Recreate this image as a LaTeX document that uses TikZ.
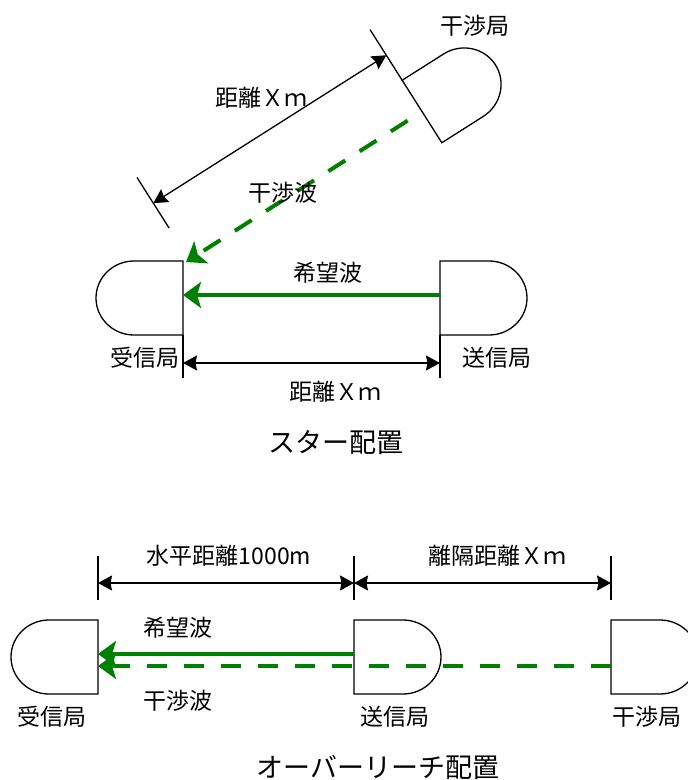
\documentclass[tikz,border=0pt]{standalone}
\usepackage{fontspec}
\newfontfamily\jpfont{Noto Sans CJK JP}
\usetikzlibrary{arrows.meta}
\definecolor{wavegreen}{RGB}{0,128,0}
\begin{document}
\begin{tikzpicture}[x=1pt,y=1pt,
  box/.style={minimum width=87pt,minimum height=74pt,inner sep=0pt,outer sep=0pt},
  outline/.style={draw=black,line width=1.3pt,fill=white},
  extline/.style={draw=black,line width=1.3pt},
  dimarrows/.style={draw=black,line width=1.3pt,{Stealth[length=14pt,width=15pt,inset=1.5pt]}-{Stealth[length=14pt,width=15pt,inset=1.5pt]}},
  wave/.style={draw=wavegreen,line width=4pt,-{Stealth[length=18pt,width=26pt,inset=4pt]}},
  iwave/.style={wave,dash pattern=on 20pt off 17pt},
  lbl/.style={font=\jpfont\fontsize{23}{25}\selectfont,inner sep=0pt},
  ttl/.style={font=\jpfont\fontsize{27}{29}\selectfont,inner sep=0pt},
  bulbright/.pic={\path[outline] (-43.5,37) -- (5.5,37) arc[start angle=90,end angle=-90,x radius=38,y radius=37] -- (-43.5,-37) -- cycle;},
  bulbleft/.pic={\path[outline] (43.5,37) -- (-5.5,37) arc[start angle=90,end angle=270,x radius=38,y radius=37] -- (43.5,-37) -- cycle;}]
\useasboundingbox (0,0) rectangle (688,-780);

% ---------- star layout ----------
\node[box] (rx) at (139.5,-298) {};
\pic at (rx.center) {bulbleft};
\node[box] (tx) at (483.5,-298) {};
\pic at (tx.center) {bulbright};
\node[box,rotate=32.4] (ix) at (458.73,-88.19) {};
\pic[rotate=32.4] at (ix.center) {bulbright};

% extension lines and dimension (bottom)
\coordinate (rxe) at ([yshift=-43pt]rx.south east);
\coordinate (txe) at ([yshift=-43pt]tx.south west);
\draw[extline] (rx.south east) -- (rxe);
\draw[extline] (tx.south west) -- (txe);
\coordinate (d1) at (183,-363);
\coordinate (d2) at (440,-363);
\draw[dimarrows] (d1) -- (d2);

% rotated dimension
\begin{scope}[shift={(ix.west)},rotate=32.4]
  \coordinate (ea1) at (0,37);
  \coordinate (ea2) at (0,97);
  \coordinate (eb1) at (-276,37);
  \coordinate (eb2) at (-276,97);
  \coordinate (da) at (0,66.6);
  \coordinate (db) at (-276,66.6);
\end{scope}
\draw[extline] (ea1) -- (ea2);
\draw[extline] (eb1) -- (eb2);
\draw[dimarrows] (da) -- (db);

% waves
\coordinate (itip) at (186,-262);
\draw[wave] ([yshift=3pt]tx.west) -- ([yshift=3pt]rx.east);
\draw[iwave,dash phase=20pt] (ix.west) -- (itip);

% labels
\node[lbl] (l1) at (475,-26) {干渉局};
\node[lbl] (l2) at (261,-98) {距離Ｘｍ};
\node[lbl] (l3) at (283,-193) {干渉波};
\node[lbl] (l4) at (328,-273) {希望波};
\node[lbl] (l5) at (145,-358) {受信局};
\node[lbl] (l6) at (497,-358) {送信局};
\node[lbl] (l7) at (335,-392) {距離Ｘｍ};
\node[ttl] (t1) at (336,-443) {スター配置};

% ---------- over-reach layout ----------
\node[box] (rb) at (54.5,-657) {};
\pic at (rb.center) {bulbleft};
\node[box] (tb) at (397.5,-657) {};
\pic at (tb.center) {bulbright};
\node[box] (ib) at (654.5,-657) {};
\pic at (ib.center) {bulbright};

\coordinate (x1a) at (98,-556);  \coordinate (x1b) at (98,-600);
\coordinate (x2a) at (354,-556); \coordinate (x2b) at (354,-600);
\coordinate (x3a) at (611,-556); \coordinate (x3b) at (611,-600);
\draw[extline] (x1a) -- (x1b);
\draw[extline] (x2a) -- (x2b);
\draw[extline] (x3a) -- (x3b);
\coordinate (b1) at (98,-583);
\coordinate (b2) at (354,-583);
\coordinate (b3) at (611,-583);
\draw[dimarrows] (b1) -- (b2);
\draw[dimarrows] (b2) -- (b3);

\draw[wave] ([yshift=3pt]tb.west) -- ([yshift=3pt]rb.east);
\draw[iwave] ([yshift=-9pt]ib.west) -- ([yshift=-9pt]rb.east);

\node[lbl] (m1) at (229,-556) {水平距離1000m};
\node[lbl] (m2) at (497,-556) {離隔距離Ｘｍ};
\node[lbl] (m3) at (178,-628) {希望波};
\node[lbl] (m4) at (178,-701) {干渉波};
\node[lbl] (m5) at (52,-717) {受信局};
\node[lbl] (m6) at (395,-717) {送信局};
\node[lbl] (m7) at (647,-717) {干渉局};
\node[ttl] (t2) at (378,-768) {オーバーリーチ配置};
\end{tikzpicture}
\end{document}
